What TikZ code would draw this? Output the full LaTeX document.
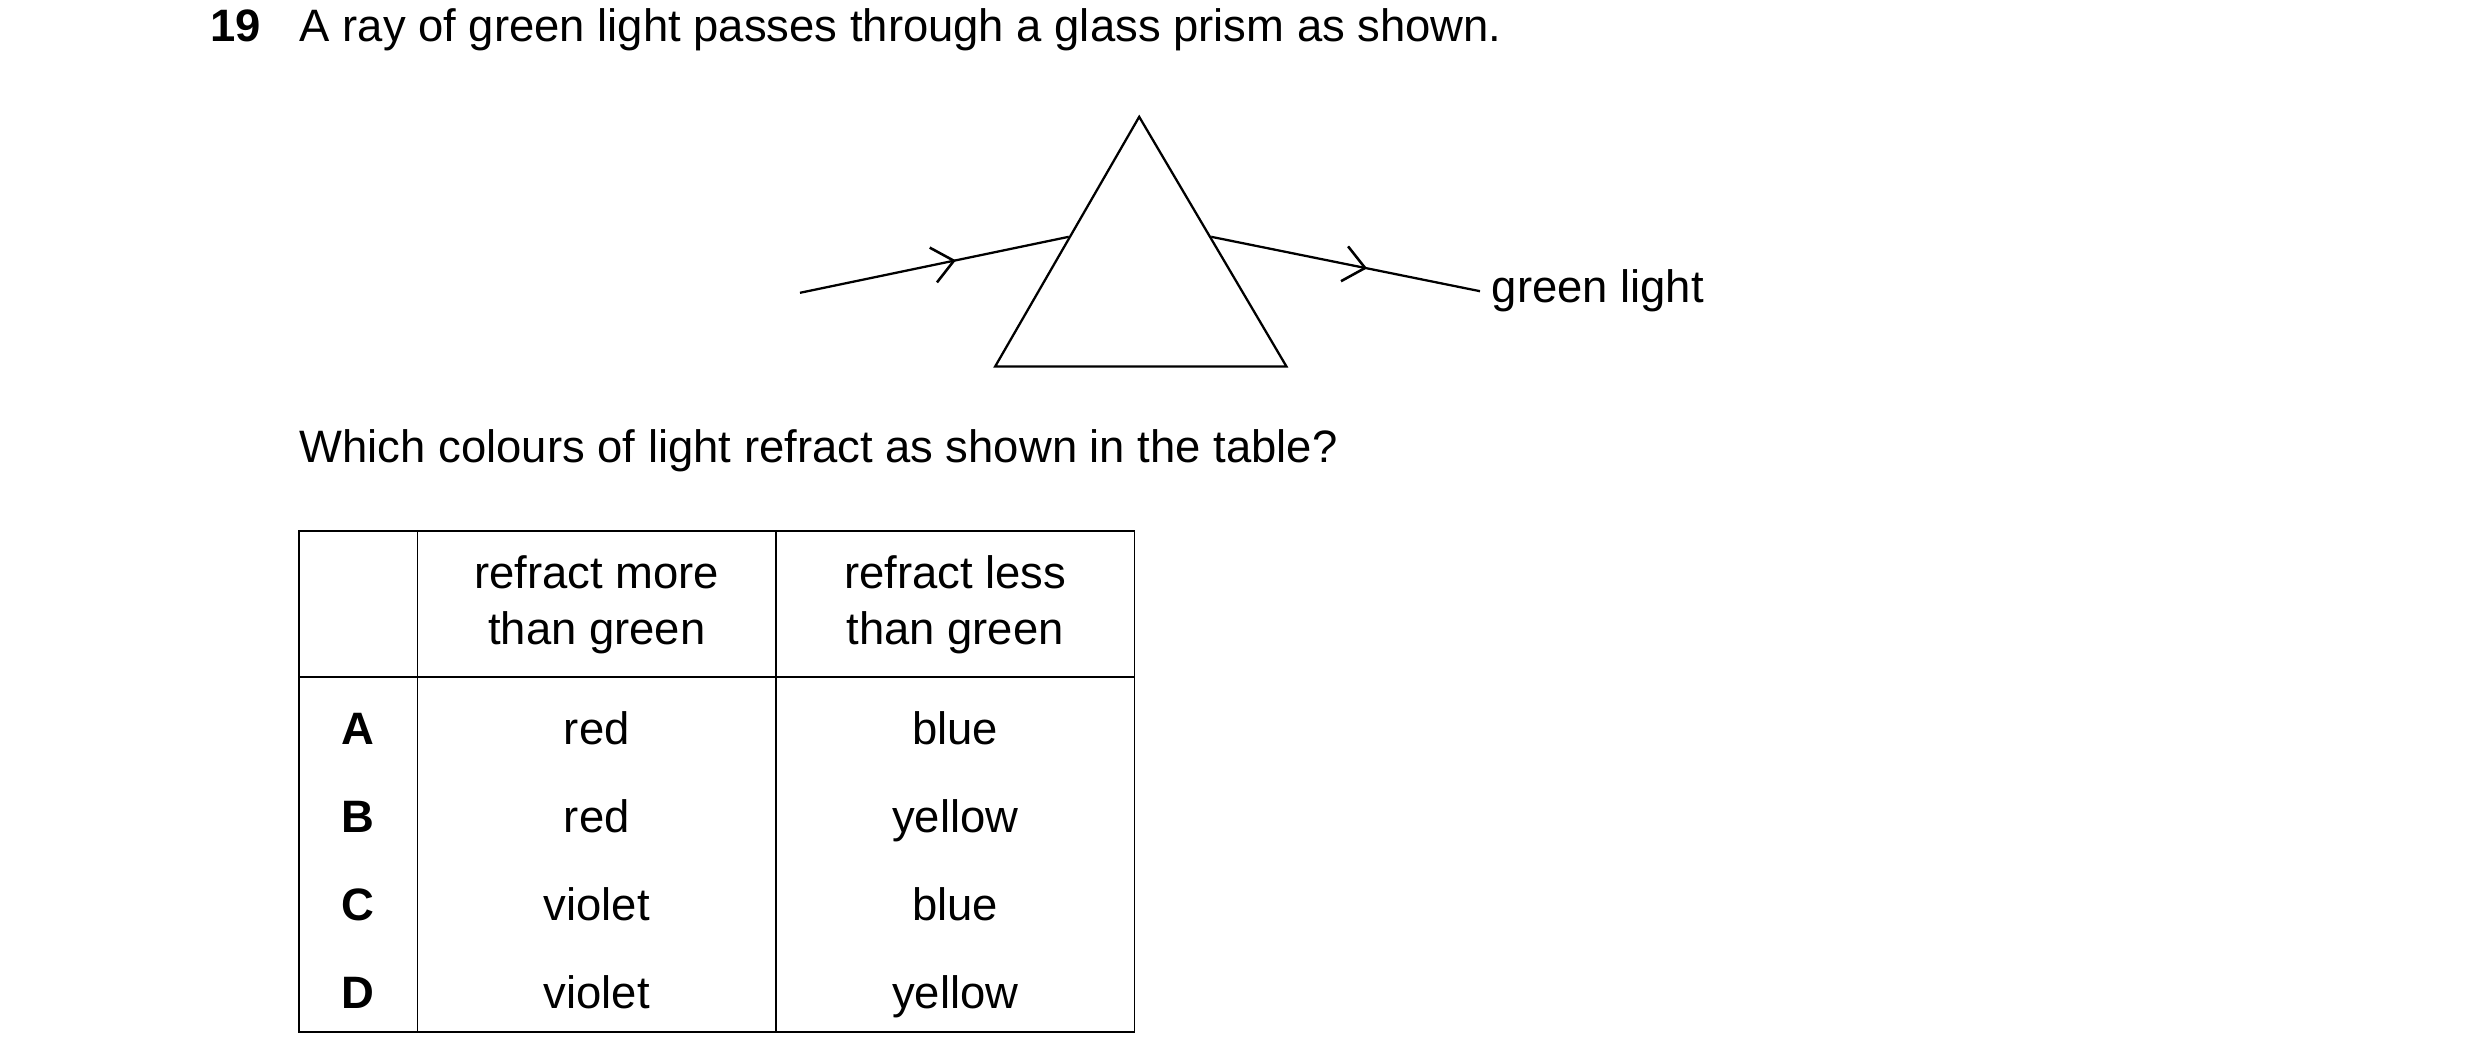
\documentclass[tikz,border=0pt]{standalone}
\usepackage{fontspec}
\setmainfont{Liberation Sans}
\usetikzlibrary{arrows.meta,decorations.markings}
\tikzset{
  txt/.style={font=\fontsize{16}{20}\selectfont,inner sep=0pt,text height=11.5pt,text depth=3.5pt},
  ray/.style={thick,postaction={decorate},decoration={markings,
    mark=at position #1 with {\arrow{Straight Barb[length=2.6mm,width=4.4mm,line width=0.9pt]}}}}
}
\begin{document}
\begin{tikzpicture}[x=0.0198cm,y=-0.0198cm]
\useasboundingbox (0,0) rectangle (1550,664);
\node[txt,anchor=west,font=\fontsize{16}{20}\selectfont\bfseries] (num) at (131,19) {19};
\node[txt,anchor=west] (title) at (187,19) {A ray of green light passes through a glass prism as shown.};
% prism
\coordinate (apex) at (712,73);
\coordinate (bl) at (622,229);
\coordinate (br) at (804,229);
\draw[thick] (apex) -- (bl) -- (br) -- cycle;
\coordinate (in) at (500,183);
\coordinate (p1) at (668,148);
\coordinate (p2) at (757,148);
\coordinate (out) at (925,182);
\draw[ray=0.58] (in) -- (p1);
\draw[ray=0.58] (p2) -- (out);
\node[txt,anchor=west] (lbl) at (932,182) {green light};
\node[txt,anchor=west] (q) at (187,282) {Which colours of light refract as shown in the table?};
% table
\draw[semithick] (187,332) rectangle (709,645);
\draw[semithick] (187,423) -- (709,423);
\foreach \x in {261,485} {
  \draw[semithick] (\x,332) -- (\x,645);
}
\node[txt,align=center,text height=,text depth=,font=\fontsize{16}{19.5}\selectfont] (h1) at (373,378) {refract more\\than green};
\node[txt,align=center,text height=,text depth=,font=\fontsize{16}{19.5}\selectfont] (h2) at (597,378) {refract less\\than green};
\foreach \t/\y/\m/\l in {A/458/red/blue, B/513/red/yellow, C/568/violet/blue, D/623/violet/yellow} {
  \node[txt,font=\fontsize{16}{20}\selectfont\bfseries] (k\t) at (224,\y) {\t};
  \node[txt] (m\t) at (373,\y) {\m};
  \node[txt] (l\t) at (597,\y) {\l};
}
\end{tikzpicture}
\end{document}
